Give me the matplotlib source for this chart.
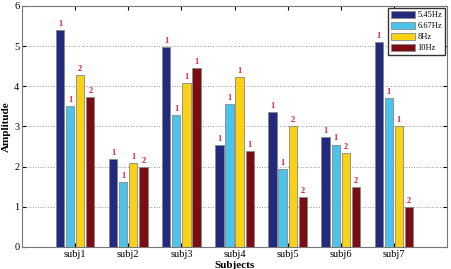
import matplotlib
matplotlib.use("Agg")
import matplotlib.pyplot as plt
import numpy as np

subjects = ["subj1", "subj2", "subj3", "subj4", "subj5", "subj6", "subj7"]
freqs = ["5.45Hz", "6.67Hz", "8Hz", "10Hz"]
amp_545 = [5.40, 2.20, 4.97, 2.53, 3.37, 2.73, 5.10]
amp_667 = [3.50, 1.62, 3.28, 3.57, 1.95, 2.55, 3.70]
amp_8 = [4.27, 2.10, 4.07, 4.22, 3.00, 2.35, 3.00]
amp_10 = [3.73, 2.00, 4.45, 2.40, 1.25, 1.50, 1.00]
rank_545 = [1, 1, 1, 1, 1, 1, 1]
rank_667 = [1, 1, 1, 1, 1, 1, 1]
rank_8 = [2, 1, 1, 1, 2, 2, 1]
rank_10 = [2, 2, 1, 1, 2, 2, 2]

COLORS = ["#232a7e", "#4cc3ea", "#fbd114", "#7b0c12"]

plt.rcParams["font.family"] = ["Liberation Serif", "DejaVu Serif"]

fig = plt.figure(figsize=(4.51, 2.69), dpi=100)
ax = fig.add_axes([0.049, 0.082, 0.942, 0.896])

x = np.arange(1, len(subjects) + 1)
pitch = 0.19
width = 0.155
series = [(amp_545, rank_545), (amp_667, rank_667), (amp_8, rank_8), (amp_10, rank_10)]
for i, (vals, ranks) in enumerate(series):
    pos = x + (i - 1.5) * pitch
    ax.bar(pos, vals, width, color=COLORS[i], edgecolor="#888888",
           linewidth=0.6, label=freqs[i], zorder=3)
    for p, v, r in zip(pos, vals, ranks):
        ax.text(p, v + 0.05, str(r), ha="center", va="bottom",
                fontsize=6, fontweight="bold", color="#d8203c", zorder=4)

ax.set_xlim(0, 8)
ax.set_ylim(0, 6)
ax.set_xticks(x)
ax.set_xticklabels(subjects, fontsize=7.5)
ax.set_yticks(range(7))
ax.tick_params(axis="y", labelsize=7.5, direction="in", right=True, length=3, pad=2)
ax.tick_params(axis="x", direction="in", top=True, length=3, pad=2.5)
ax.yaxis.grid(True, linestyle=":", color="#999999", linewidth=0.7, zorder=0)
for s in ax.spines.values():
    s.set_color("#777777")
    s.set_linewidth(0.8)

ax.set_ylabel("Amplitude", fontsize=8, fontweight="bold", labelpad=2)
ax.set_xlabel("Subjects", fontsize=8, fontweight="bold", labelpad=1)

ax.legend(loc="upper right", fontsize=6, handlelength=2.9, handleheight=1.0,
          borderpad=0.3, labelspacing=0.3, handletextpad=0.3,
          fancybox=False, edgecolor="#333333", framealpha=1,
          borderaxespad=0.25)

fig.savefig("out.png", dpi=100)
